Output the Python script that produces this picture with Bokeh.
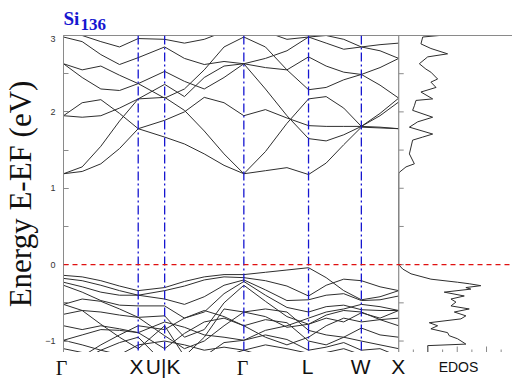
import math
from bokeh.plotting import figure
from bokeh.layouts import column
from bokeh.models import Range1d, LinearAxis, FixedTicker, Span
from bokeh.core.properties import value
from bokeh.embed import file_html
from bokeh.resources import INLINE

# ---------------- data ----------------
KPOINT_LABELS = ["Γ", "X", "U|K", "Γ", "L", "W", "X"]
KPOINT_POS = [0.0, 1.0, 1.354, 2.414, 3.280, 3.987, 4.487]

# k samples along Γ-X-U|K-Γ-L-W-X
K_GRID = [0.0, 0.25, 0.5, 0.75, 1.0, 1.354, 1.619, 1.884, 2.149, 2.414,
          2.703, 2.991, 3.280, 3.516, 3.751, 3.987, 4.237, 4.487]

# conduction bands (eV)
C1 = [1.19, 1.22, 1.32, 1.52, 1.78, 1.67, 1.58, 1.45, 1.30, 1.19, 1.23, 1.27, 1.18, 1.33, 1.57, 1.80, 1.79, 1.78]
C2 = [1.19, 1.28, 1.55, 1.88, 2.17, 2.19, 2.02, 1.75, 1.45, 1.19, 1.48, 1.85, 2.17, 2.20, 2.05, 1.81, 1.95, 2.13]
C3 = [1.95, 2.12, 2.16, 1.98, 1.78, 1.89, 2.00, 2.19, 2.12, 1.95, 2.03, 1.92, 1.82, 1.81, 1.81, 1.81, 1.80, 1.78]
C4 = [1.95, 1.93, 1.95, 2.05, 2.17, 2.36, 2.20, 2.45, 2.60, 2.63, 2.30, 1.95, 1.65, 1.62, 1.70, 1.81, 1.98, 2.18]
C5 = [2.63, 2.45, 2.30, 2.28, 2.37, 2.53, 2.40, 2.30, 2.45, 2.63, 2.58, 2.55, 2.72, 2.60, 2.52, 2.49, 2.58, 2.70]
C6 = [2.63, 2.55, 2.60, 2.48, 2.37, 2.18, 2.30, 2.55, 2.85, 2.98, 2.85, 2.55, 2.29, 2.32, 2.42, 2.49, 2.35, 2.18]
C7 = [2.98, 2.92, 2.75, 2.62, 2.71, 2.85, 2.70, 2.62, 2.66, 2.63, 2.70, 2.80, 2.98, 2.90, 2.82, 2.85, 2.80, 2.70]
C8 = [3.05, 3.00, 2.92, 2.85, 2.96, 2.95, 2.90, 2.95, 3.05, 3.10, 3.05, 2.95, 2.98, 3.00, 2.95, 2.85, 2.88, 2.90]

# valence bands (eV)
V1 = [-0.14, -0.16, -0.21, -0.28, -0.34, -0.30, -0.22, -0.16, -0.13, -0.13, -0.10, -0.07, -0.04, -0.17, -0.34, -0.46, -0.42, -0.34]
V2 = [-0.18, -0.21, -0.27, -0.34, -0.40, -0.34, -0.28, -0.20, -0.16, -0.17, -0.21, -0.28, -0.41, -0.27, -0.19, -0.21, -0.29, -0.34]
V3 = [-0.23, -0.29, -0.36, -0.40, -0.40, -0.45, -0.52, -0.42, -0.27, -0.20, -0.33, -0.47, -0.46, -0.40, -0.38, -0.47, -0.46, -0.41]
V4 = [-0.27, -0.36, -0.47, -0.53, -0.54, -0.54, -0.70, -0.62, -0.38, -0.22, -0.40, -0.56, -0.62, -0.55, -0.53, -0.59, -0.60, -0.60]
V5 = [-0.52, -0.45, -0.48, -0.58, -0.69, -0.67, -0.95, -0.85, -0.50, -0.27, -0.48, -0.68, -0.78, -0.66, -0.60, -0.62, -0.72, -0.80]
V6 = [-0.52, -0.60, -0.78, -0.95, -1.10, -0.80, -1.20, -0.95, -0.58, -0.62, -0.68, -0.82, -0.78, -0.70, -0.75, -0.63, -0.70, -0.60]
V7 = [-0.65, -0.60, -0.62, -0.66, -0.69, -0.93, -1.10, -1.00, -0.80, -0.62, -0.58, -0.62, -0.86, -0.92, -0.95, -0.83, -0.92, -0.95]
V8 = [-0.80, -0.85, -0.80, -0.84, -0.89, -1.10, -0.90, -0.75, -0.70, -0.80, -0.72, -0.76, -1.00, -1.05, -0.95, -1.00, -1.05, -1.10]
V9 = [-0.99, -0.92, -0.85, -0.86, -0.89, -0.75, -0.82, -0.92, -0.95, -0.99, -0.92, -0.98, -1.12, -1.08, -1.02, -1.12, -1.10, -1.20]
V10 = [-0.99, -1.05, -1.12, -1.18, -1.05, -1.00, -1.05, -1.12, -1.08, -1.12, -1.05, -1.10, -1.16, -1.15, -1.10, -1.18, -1.20, -1.25]
V11 = [-1.10, -1.15, -1.20, -1.25, -1.25, -1.20, -1.18, -1.25, -1.20, -1.12, -1.20, -1.25, -1.30, -1.25, -1.22, -1.25, -1.30, -1.30]
V12 = [-1.30, -1.20, -1.05, -0.92, -0.80, -0.85, -0.70, -0.60, -0.68, -0.80, -0.95, -1.05, -0.95, -0.80, -0.70, -0.75, -0.72, -0.70]
V13 = [-1.30, -1.25, -1.12, -1.02, -0.95, -1.30, -1.30, -1.20, -1.02, -0.99, -0.86, -0.80, -0.70, -0.62, -0.58, -0.52, -0.55, -0.60]

BANDS = [C1, C2, C3, C4, C5, C6, C7, C8,
         V1, V2, V3, V4, V5, V6, V7, V8, V9, V10, V11, V12, V13]

# electronic density of states (arb. units)
DOS_E_COND = [3.00, 2.98, 2.89, 2.83, 2.76, 2.72, 2.63, 2.56, 2.52, 2.43, 2.39, 2.32, 2.26, 2.17, 2.15,
              2.08, 2.02, 1.93, 1.87, 1.80, 1.71, 1.67, 1.63, 1.54, 1.45, 1.32, 1.28, 1.21, 1.19, 0.0]
DOS_V_COND = [2.77, 1.64, 1.52, 2.20, 3.34, 1.98, 1.41, 1.86, 2.20, 2.66, 2.20, 2.55, 1.52, 2.32, 1.18,
              1.07, 0.95, 2.32, 1.30, 0.73, 2.32, 1.64, 0.95, 0.84, 0.73, 1.07, 0.50, 0.05, 0.0, 0.0]
DOS_E_VAL = [0.0, -0.057, -0.12, -0.19, -0.23, -0.25, -0.275, -0.30, -0.32, -0.36, -0.41, -0.45, -0.49, -0.54,
             -0.58, -0.62, -0.67, -0.71, -0.76, -0.80, -0.84, -0.89, -0.93, -0.97, -1.04, -1.06, -1.15]
DOS_V_VAL = [0.0, 0.27, 0.84, 2.20, 4.02, 4.82, 5.61, 4.59, 4.93, 3.11, 4.48, 3.57, 3.91, 3.57, 4.82,
             3.80, 4.59, 4.25, 2.09, 2.66, 2.20, 3.34, 3.45, 4.02, 4.59, 1.98, 1.98]

Y_TICKS = [-1, 0, 1, 2, 3]
Y_MINOR = [-1.0, -0.5, 0.0, 0.5, 1.0, 1.5, 2.0, 2.5, 3.0]
DOS_MAJOR = [2, 4, 6]
DOS_MINOR = [1, 3, 5, 7]

TITLE_MAIN = "Si"
TITLE_SUB = "136"
DOS_LABEL = "EDOS"
Y_LABEL = "Energy E-EF (eV)"

# ---------------- layout constants ----------------
E_MIN, E_MAX = -1.15, 3.0
K_END = KPOINT_POS[-1]
W = 512
LEFT = 61
BAND_PX = 336.7
DOS_UNIT_PX = 14.7
H_TITLE, H_MAIN, H_LAB = 35, 317, 27
PX_PER_K = BAND_PX / K_END
FRAME_PX = W - LEFT

GRAY = "#8a8a8a"
LINE = "#2e2e2e"
BLUE = "#1616d0"


def strip_fig(height):
    f = figure(width=W, height=height, output_backend="svg", toolbar_location=None,
               x_range=Range1d(-LEFT / PX_PER_K, FRAME_PX / PX_PER_K),
               y_range=Range1d(0, height),
               x_axis_location=None, y_axis_location=None,
               min_border_left=0, min_border_right=0, min_border_top=0, min_border_bottom=0,
               frame_align=False)
    f.extra_x_ranges = {"dos": Range1d(-(LEFT + BAND_PX) / DOS_UNIT_PX, (FRAME_PX - BAND_PX) / DOS_UNIT_PX)}
    f.outline_line_color = None
    f.grid.visible = False
    return f


# ---------------- title strip ----------------
pt = strip_fig(H_TITLE)
pt.text(x=[2.0 / PX_PER_K], y=[16.7], text=[TITLE_MAIN], text_baseline="alphabetic",
        text_font=value("Liberation Serif"), text_font_style="bold",
        text_font_size=value("19px"), text_color=BLUE)
pt.text(x=[19.0 / PX_PER_K], y=[11], text=[TITLE_SUB], text_baseline="alphabetic",
        text_font=value("Liberation Serif"), text_font_style="bold",
        text_font_size=value("17px"), text_color=BLUE)

# ---------------- main panel ----------------
p = figure(width=W, height=H_MAIN, output_backend="svg", toolbar_location=None,
           x_range=Range1d(0, FRAME_PX / PX_PER_K),
           y_range=Range1d(E_MIN, E_MAX),
           min_border_left=LEFT, min_border_right=0, min_border_top=0, min_border_bottom=0,
           x_axis_location=None, frame_align=False)
p.extra_x_ranges = {"dos": Range1d(-BAND_PX / DOS_UNIT_PX, (FRAME_PX - BAND_PX) / DOS_UNIT_PX)}
p.outline_line_color = None
p.grid.visible = False

ya = p.yaxis[0]
ya.ticker = FixedTicker(ticks=Y_TICKS, minor_ticks=Y_MINOR)
ya.axis_line_color = GRAY
ya.major_tick_line_color = GRAY
ya.minor_tick_line_color = GRAY
ya.major_tick_in = 5
ya.major_tick_out = 0
ya.minor_tick_in = 5
ya.minor_tick_out = 0
ya.major_label_text_font = "Liberation Sans"
ya.major_label_text_font_size = "9px"
ya.major_label_text_color = "#333333"
ya.major_label_standoff = 8
ya.axis_label = Y_LABEL
ya.axis_label_text_font = "Liberation Serif"
ya.axis_label_text_font_size = "31px"
ya.axis_label_text_font_style = "normal"
ya.axis_label_text_color = "#111111"
ya.axis_label_standoff = 4

for loc in ("below", "above"):
    ax = LinearAxis(ticker=FixedTicker(ticks=[]), axis_line_color=GRAY,
                    major_tick_in=0, major_tick_out=0, minor_tick_in=0, minor_tick_out=0,
                    major_label_text_font_size="0px", major_label_standoff=0)
    p.add_layout(ax, loc)

p.multi_line(xs=[K_GRID] * len(BANDS), ys=BANDS, line_color=LINE, line_width=1.0)

for kx in KPOINT_POS[1:-1]:
    p.add_layout(Span(location=kx, dimension="height", line_color=BLUE,
                      line_dash="9 3 2 3", line_width=1.3))
p.add_layout(Span(location=K_END, dimension="height", line_color=GRAY, line_width=1.2))
p.add_layout(Span(location=0, dimension="width", line_color="#e01010",
                  line_dash="5 4", line_width=1.3))

p.line(DOS_V_COND, DOS_E_COND, x_range_name="dos", line_color=LINE, line_width=1.0)
p.line(DOS_V_VAL, DOS_E_VAL, x_range_name="dos", line_color=LINE, line_width=1.0)

p.ray(x=[K_END] * len(Y_MINOR), y=Y_MINOR, length=5, length_units="screen", angle=0,
      line_color=GRAY, line_width=1)
p.ray(x=DOS_MAJOR, y=[E_MIN] * len(DOS_MAJOR), length=6, length_units="screen",
      angle=math.pi / 2, x_range_name="dos", line_color=GRAY, line_width=1)
p.ray(x=DOS_MINOR, y=[E_MIN] * len(DOS_MINOR), length=3, length_units="screen",
      angle=math.pi / 2, x_range_name="dos", line_color=GRAY, line_width=1)

# ---------------- label strip ----------------
pl = strip_fig(H_LAB)
serif_x = [k for n, k in zip(KPOINT_LABELS, KPOINT_POS) if n == "Γ"]
serif_t = [n for n in KPOINT_LABELS if n == "Γ"]
sans_x = [k for n, k in zip(KPOINT_LABELS, KPOINT_POS) if n != "Γ"]
sans_t = [n for n in KPOINT_LABELS if n != "Γ"]
pl.text(x=serif_x, y=[12] * len(serif_x), text=serif_t, text_align="center",
        text_baseline="alphabetic", text_font=value("Liberation Serif"),
        text_font_size=value("20px"), text_color="#111111")
pl.text(x=sans_x, y=[12.8] * len(sans_x), text=sans_t, text_align="center",
        text_baseline="alphabetic", text_font=value("Liberation Sans"),
        text_font_size=value("21px"), text_color="#111111")
pl.text(x=[4.1], y=[12.9], text=[DOS_LABEL], x_range_name="dos", text_align="center",
        text_baseline="alphabetic", text_font=value("Liberation Sans"),
        text_font_size=value("14px"), text_color="#111111")

layout = column(pt, p, pl, spacing=0)
open("out.html", "w").write(file_html(layout, INLINE))
